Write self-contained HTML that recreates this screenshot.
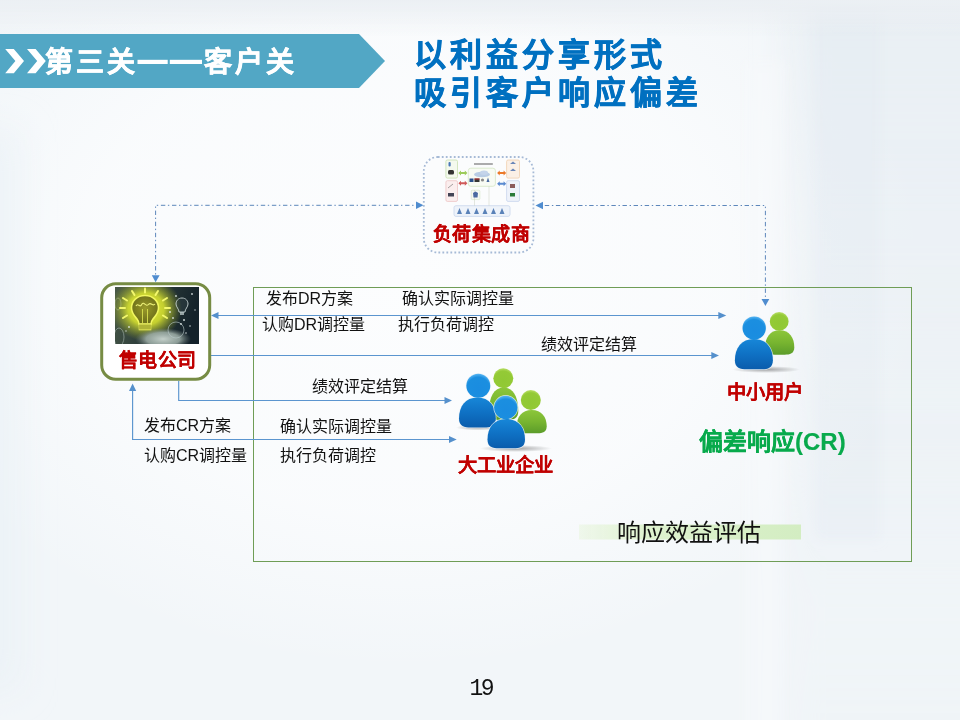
<!DOCTYPE html>
<html lang="zh-CN">
<head>
<meta charset="utf-8">
<style>
html,body{margin:0;padding:0;}
body{width:960px;height:720px;overflow:hidden;position:relative;font-family:"Liberation Sans",sans-serif;
background:#eef3f7;}
#bg{position:absolute;left:0;top:0;width:960px;height:720px;}
.t{position:absolute;white-space:nowrap;line-height:1;margin:0;}
.n{font-size:16px;color:#111;}
.r{font-weight:900;color:#c00000;-webkit-text-stroke:0.12px #c00000;}
svg{position:absolute;left:0;top:0;}
</style>
</head>
<body>
<svg id="bg" width="960" height="720" viewBox="0 0 960 720">
<defs>
<filter id="blur20" x="-20%" y="-20%" width="140%" height="140%"><feGaussianBlur stdDeviation="18"/></filter>
<filter id="blur8" x="-20%" y="-20%" width="140%" height="140%"><feGaussianBlur stdDeviation="6"/></filter>
<linearGradient id="bgTop" x1="0" y1="0" x2="0" y2="1">
<stop offset="0" stop-color="#ebeff3"/>
<stop offset="1" stop-color="#ebeff3" stop-opacity="0"/>
</linearGradient>
<radialGradient id="bgGlow" cx="0.42" cy="0.38" r="0.55">
<stop offset="0" stop-color="#fcfdfe" stop-opacity="1"/>
<stop offset="0.6" stop-color="#fcfdfe" stop-opacity="0.75"/>
<stop offset="1" stop-color="#fcfdfe" stop-opacity="0"/>
</radialGradient>
<linearGradient id="bgRightV" x1="0" y1="0" x2="0" y2="1">
<stop offset="0" stop-color="#e4ebf1" stop-opacity="0.6"/>
<stop offset="0.45" stop-color="#e4ebf1" stop-opacity="0.4"/>
<stop offset="0.8" stop-color="#e4ebf1" stop-opacity="0.1"/>
<stop offset="1" stop-color="#e4ebf1" stop-opacity="0.15"/>
</linearGradient>
</defs>
<rect width="960" height="720" fill="#f2f6f9"/>
<rect width="960" height="720" fill="url(#bgGlow)"/>
<g filter="url(#blur20)">
<rect x="-40" y="130" width="60" height="560" fill="#e8f0f5" opacity="0.6"/>
<rect x="790" y="-40" width="230" height="800" fill="url(#bgRightV)"/>
</g>
<g filter="url(#blur8)">
<rect x="815" y="-20" width="65" height="560" fill="#dde6ee" opacity="0.2"/>
<rect x="745" y="60" width="40" height="680" fill="#f8fafc" opacity="0.5"/>
</g>
<rect x="0" y="0" width="960" height="36" fill="url(#bgTop)"/>
</svg>

<!-- banner -->
<svg width="960" height="720" viewBox="0 0 960 720">
<defs>
<linearGradient id="gBlue" x1="0" y1="0" x2="0" y2="1">
<stop offset="0" stop-color="#1787d8"/>
<stop offset="0.5" stop-color="#0f71c4"/>
<stop offset="1" stop-color="#0a5cac"/>
</linearGradient>
<linearGradient id="gGreen" x1="0" y1="0" x2="0" y2="1">
<stop offset="0" stop-color="#8cc63a"/>
<stop offset="0.5" stop-color="#78b530"/>
<stop offset="1" stop-color="#5b9c2a"/>
</linearGradient>
<radialGradient id="gBlueH" cx="0.5" cy="0.62" r="0.6">
<stop offset="0" stop-color="#1a8ce0"/>
<stop offset="0.8" stop-color="#1b8fe0"/>
<stop offset="1" stop-color="#4fb0f0"/>
</radialGradient>
<radialGradient id="gGreenH" cx="0.5" cy="0.62" r="0.6">
<stop offset="0" stop-color="#90c834"/>
<stop offset="0.8" stop-color="#94ca36"/>
<stop offset="1" stop-color="#b4dc60"/>
</radialGradient>
<radialGradient id="gShadow" cx="0.5" cy="0.5" r="0.5">
<stop offset="0" stop-color="#000" stop-opacity="0.35"/>
<stop offset="1" stop-color="#000" stop-opacity="0"/>
</radialGradient>
<marker id="ah" viewBox="0 0 10 10" refX="9" refY="5" markerWidth="8" markerHeight="8" markerUnits="userSpaceOnUse" orient="auto-start-reverse">
<path d="M0,0 L10,5 L0,10 z" fill="#5590cc"/>
</marker>
</defs>
<polygon points="0,34 359,34 385,61 359,88 0,88" fill="#52a7c5"/>

<!-- green rect -->
<rect x="253.5" y="287.5" width="658" height="274" fill="none" stroke="#6f9d56" stroke-width="1"/>

<!-- dash dot lines -->
<g stroke="#5d87bb" stroke-width="1" fill="none" stroke-dasharray="1.4 2.7 4.4 2.6" stroke-dashoffset="-1.2">
<path d="M155.6,205.3 L155.6,276"/>
<path d="M155.6,205.3 L417,205.3"/>
<path d="M765.4,205.5 L542,205.5"/>
<path d="M765.4,205.5 L765.4,299.5"/>
</g>
<g fill="#4f8ccf">
<path d="M151.8,275.3 L159.6,275.3 L155.6,282.3 z"/>
<path d="M416,201.5 L416,209.1 L423.5,205.3 z"/>
<path d="M543,201.7 L543,209.3 L535.5,205.5 z"/>
<path d="M761.5,298.9 L769.3,298.9 L765.4,306 z"/>
</g>

<!-- solid arrows -->
<g stroke="#5b95cf" stroke-width="1.15" fill="none">
<path d="M216,315.5 L720,315.5"/>
<path d="M211,355.5 L713,355.5"/>
<path d="M178.7,381 L178.7,400.5 L446,400.5"/>
<path d="M132.6,389 L132.6,439.5 L450,439.5"/>
</g>
<g fill="#5590cc">
<path d="M218.5,312 L218.5,319 L211,315.5 z"/>
<path d="M718.3,312 L718.3,319 L726.3,315.5 z"/>
<path d="M711.3,352 L711.3,359 L719,355.5 z"/>
<path d="M444.5,397 L444.5,404 L452,400.5 z"/>
<path d="M449,436 L449,443 L456.7,439.5 z"/>
<path d="M129,391 L136.2,391 L132.6,383.5 z"/>
</g>

<!-- 负荷集成商 box -->
<rect x="423.8" y="157" width="109.6" height="95.5" rx="14" fill="#fbfcfd" stroke="#a6bad6" stroke-width="1.8" stroke-dasharray="1.8 2.2"/>

<!-- diagram image -->
<g>
<rect x="445.9" y="160" width="11.6" height="18.1" rx="1.5" fill="#f4f9ee" stroke="#c8e0b0" stroke-width="0.8"/>
<rect x="445.9" y="180.7" width="11.6" height="20.7" rx="1.5" fill="#fbeeee" stroke="#ecc4c4" stroke-width="0.8"/>
<rect x="506.6" y="160" width="12.9" height="18.1" rx="1.5" fill="#fbf0e6" stroke="#f0cfae" stroke-width="0.8"/>
<rect x="506.6" y="180.7" width="12.9" height="20.7" rx="1.5" fill="#eef2fa" stroke="#c8d4ec" stroke-width="0.8"/>
<rect x="468.3" y="168.2" width="27.1" height="18.1" rx="2.5" fill="#f8fbf4" stroke="#d4e6c4" stroke-width="0.8"/>
<rect x="471.3" y="190.2" width="8.6" height="9.4" rx="1" fill="#f6faf2" stroke="#d4e6c4" stroke-width="0.6"/>
<rect x="454" y="205.7" width="56" height="10.7" rx="2" fill="#eef3fa" stroke="#c8d6ec" stroke-width="0.8"/>
<path d="M474.5,190 L474.5,205.7 M489,186.3 L489,205.7" stroke="#c8d0c0" stroke-width="0.5"/>
<ellipse cx="482" cy="174.5" rx="8" ry="2.8" fill="#b8cce4"/>
<ellipse cx="484" cy="172.8" rx="4" ry="2.2" fill="#c4d4ea"/>
<rect x="474" y="163.2" width="18.8" height="1.6" fill="#555" opacity="0.6"/>
<g>
<rect x="469.5" y="178.5" width="4" height="3.5" fill="#2a4f8a"/>
<rect x="474.5" y="178.5" width="5" height="3.5" fill="#333"/>
<rect x="474.5" y="178.5" width="5" height="1" fill="#c33"/>
<circle cx="482.5" cy="180" r="1.6" fill="#888"/>
<path d="M486.5,182 L488,177.5 L489.5,182 z" fill="#4a6aa0"/>
</g>
<g fill="#4a78b8">
<rect x="448.5" y="162" width="2.2" height="4.5" rx="1"/>
</g>
<rect x="448" y="170" width="6" height="4.5" rx="1.5" fill="#333"/>
<rect x="448" y="193" width="6" height="3.5" fill="#445"/>
<path d="M448,188 L453,184" stroke="#666" stroke-width="0.6"/>
<path d="M510,164 L513,161.5 L516,164 z" fill="#6a86b8"/>
<path d="M510,171 L513,168.5 L516,171 z" fill="#6a86b8"/>
<rect x="510" y="184" width="5" height="4" fill="#8a5a5a"/>
<rect x="510" y="193" width="5" height="3.5" fill="#2a7a3a"/>
<g fill="#5a82b8">
<path d="M457,214 L459.5,208 L462,214 z"/><path d="M465.5,214 L468,208 L470.5,214 z"/>
<path d="M474,214 L476.5,208 L479,214 z"/><path d="M482.5,214 L485,208 L487.5,214 z"/>
<path d="M491,214 L493.5,208 L496,214 z"/><path d="M499.5,214 L502,208 L504.5,214 z"/>
</g>
<path d="M473,193 L475.5,191.5 L478,193 L477.5,197.5 L473.5,197.5 z" fill="#4a6aa0"/>
<!-- double arrows -->
<path d="M458.4,173 L461,170.5 L461,172 L464.8,172 L464.8,170.5 L467.4,173 L464.8,175.5 L464.8,174 L461,174 L461,175.5 z" fill="#9ccb5a"/>
<path d="M458.4,183.3 L461,180.8 L461,182.3 L464.8,182.3 L464.8,180.8 L467.4,183.3 L464.8,185.8 L464.8,184.3 L461,184.3 L461,185.8 z" fill="#d05a5a"/>
<path d="M497.1,173 L499.7,170.5 L499.7,172 L503.6,172 L503.6,170.5 L506.2,173 L503.6,175.5 L503.6,174 L499.7,174 L499.7,175.5 z" fill="#ec7a2a"/>
<path d="M497.1,183.7 L499.7,181.2 L499.7,182.7 L503.6,182.7 L503.6,181.2 L506.2,183.7 L503.6,186.2 L503.6,184.7 L499.7,184.7 L499.7,186.2 z" fill="#5a8ad0"/>
</g>

<!-- 售电公司 box -->
<rect x="101.7" y="283.8" width="108" height="95.4" rx="14" fill="#ffffff" stroke="#778c44" stroke-width="3"/>
<!-- lightbulb image -->
<defs>
<linearGradient id="gBulbBg" x1="0" y1="0" x2="1" y2="0.2">
<stop offset="0" stop-color="#4a5a48"/>
<stop offset="0.5" stop-color="#2c3c3a"/>
<stop offset="1" stop-color="#14222a"/>
</linearGradient>
<radialGradient id="gGlow" cx="0.5" cy="0.5" r="0.5">
<stop offset="0" stop-color="#f4f840" stop-opacity="1"/>
<stop offset="0.5" stop-color="#dfe92e" stop-opacity="0.85"/>
<stop offset="0.8" stop-color="#b8c628" stop-opacity="0.35"/>
<stop offset="1" stop-color="#a0b020" stop-opacity="0"/>
</radialGradient>
<radialGradient id="gHand" cx="0.5" cy="0.5" r="0.5">
<stop offset="0" stop-color="#c4d0ca"/>
<stop offset="0.6" stop-color="#98a8a2" stop-opacity="0.9"/>
<stop offset="1" stop-color="#6b7a76" stop-opacity="0"/>
</radialGradient>
<radialGradient id="gBulbIn" cx="0.5" cy="0.45" r="0.55">
<stop offset="0" stop-color="#9a9a2a"/>
<stop offset="1" stop-color="#6a6c18"/>
</radialGradient>
<clipPath id="cBulb"><rect x="115" y="287" width="84" height="57"/></clipPath>
</defs>
<g clip-path="url(#cBulb)">
<rect x="115" y="287" width="84" height="57" fill="url(#gBulbBg)"/>
<ellipse cx="146" cy="309" rx="36" ry="32" fill="url(#gGlow)"/>
<ellipse cx="163" cy="339" rx="28" ry="11" fill="url(#gHand)"/>
<ellipse cx="176" cy="330" rx="8" ry="8" fill="none" stroke="#b8c8c8" stroke-width="1" opacity="0.6"/>
<ellipse cx="119" cy="337" rx="5" ry="9" fill="none" stroke="#a8b8b0" stroke-width="1" opacity="0.6"/>
<ellipse cx="118" cy="304" rx="3" ry="6" fill="none" stroke="#c8d8a0" stroke-width="0.8" opacity="0.5"/>
<g stroke="#f8fc70" stroke-width="2" stroke-linecap="round" opacity="0.95">
<path d="M145,288.5 L145,292.5"/><path d="M132,291 L134.5,295"/><path d="M158,291 L155.5,295"/>
<path d="M123,298 L127,300.5"/><path d="M167,298 L163,300.5"/><path d="M120,308 L125,308"/>
<path d="M170,308 L165,308"/><path d="M123,318 L127,315.5"/><path d="M167,318 L163,315.5"/>
</g>
<path d="M145,295.5 C137,295.5 131.5,301 131.5,308 C131.5,313 134.5,316 137,319 C138.5,321 139,322 139,324 L151,324 C151,322 151.5,321 153,319 C155.5,316 158.5,313 158.5,308 C158.5,301 153,295.5 145,295.5 Z" fill="url(#gBulbIn)" stroke="#f2f760" stroke-width="1.6"/>
<path d="M136,306 C138,302 140,309 142,304 C144,301 146,308 149,304 C151,302 153,307 155,304" fill="none" stroke="#eef27a" stroke-width="1.1"/>
<path d="M142.5,309 L142.5,323 M147.5,309 L147.5,323" stroke="#d8e050" stroke-width="0.9"/>
<rect x="139" y="324" width="12" height="6" fill="#c4c840" stroke="#e6ea66" stroke-width="0.6"/>
<path d="M139,326 L151,326 M139,328 L151,328" stroke="#80841e" stroke-width="0.6"/>
<path d="M182,298 C178,298 176,301 176,304 C176,307 179,309 179,312 L185,312 C185,309 188,307 188,304 C188,301 186,298 182,298 Z" fill="#3a4a50" fill-opacity="0.4" stroke="#d0dcdc" stroke-width="1" opacity="0.85"/>
<rect x="180" y="312" width="4" height="3" fill="#c8d4d4" opacity="0.7"/>
<g fill="#e8f0f0" opacity="0.85">
<circle cx="176" cy="296" r="0.9"/><circle cx="192" cy="294" r="0.9"/><circle cx="184" cy="320" r="1"/>
<circle cx="190" cy="326" r="0.8"/><circle cx="173" cy="318" r="0.9"/><circle cx="129" cy="327" r="0.9"/>
<circle cx="126" cy="331" r="0.7"/><circle cx="186" cy="333" r="0.8"/><circle cx="195" cy="310" r="0.7"/>
<circle cx="170" cy="312" r="1"/><circle cx="181" cy="324" r="0.9"/>
</g>
</g>


<!-- people 中小用户 -->
<g>
<ellipse cx="766" cy="369.5" rx="34" ry="3.5" fill="url(#gShadow)"/>
<path d="M765.1,347.3 C765.1,337.6 770.1,330.2 779.7,330.2 C789.3,330.2 794.3,337.6 794.3,347.3 C794.3,353.7 789.9,354.7 784.7,354.7 L774.7,354.7 C769.5,354.7 765.1,353.7 765.1,347.3 Z" fill="url(#gGreen)"/>
<circle cx="779.2" cy="321.4" r="9.4" fill="url(#gGreenH)"/>
<path d="M734.9,360.3 C734.9,348.1 741.4,339.0 753.9,339.0 C766.4,339.0 772.9,348.1 772.9,360.3 C772.9,368.3 767.5,369.3 761.2,369.3 L746.6,369.3 C740.3,369.3 734.9,368.3 734.9,360.3 Z" fill="#eef4f8" stroke="#eef4f8" stroke-width="1.4" opacity="0.8"/>
<circle cx="754.2" cy="328.1" r="11.7" fill="#eef4f8" stroke="#eef4f8" stroke-width="1.4" opacity="0.8"/>
<path d="M734.9,360.3 C734.9,348.1 741.4,339.0 753.9,339.0 C766.4,339.0 772.9,348.1 772.9,360.3 C772.9,368.3 767.5,369.3 761.2,369.3 L746.6,369.3 C740.3,369.3 734.9,368.3 734.9,360.3 Z" fill="url(#gBlue)"/>
<circle cx="754.2" cy="328.1" r="11.7" fill="url(#gBlueH)"/>
</g>
<!-- people 大工业企业 -->
<g>
<ellipse cx="478" cy="427.5" rx="22" ry="3" fill="url(#gShadow)"/>
<ellipse cx="516" cy="448.5" rx="36" ry="3.5" fill="url(#gShadow)"/>
<path d="M489.0,411.0 C489.0,397.2 494.0,387.5 503.6,387.5 C513.3,387.5 518.3,397.2 518.3,411.0 C518.3,419.0 512.9,420.0 506.6,420.0 L500.7,420.0 C494.4,420.0 489.0,419.0 489.0,411.0 Z" fill="url(#gGreen)"/>
<circle cx="503.3" cy="378.3" r="10" fill="url(#gGreenH)"/>
<path d="M516.7,426.3 C516.7,417.0 521.8,410.0 531.7,410.0 C541.6,410.0 546.7,417.0 546.7,426.3 C546.7,432.3 542.5,433.3 537.6,433.3 L525.8,433.3 C520.9,433.3 516.7,432.3 516.7,426.3 Z" fill="url(#gGreen)"/>
<circle cx="530.8" cy="400" r="10" fill="url(#gGreenH)"/>
<path d="M459.0,418.5 C459.0,406.5 465.3,397.5 477.4,397.5 C489.5,397.5 495.8,406.5 495.8,418.5 C495.8,426.5 490.4,427.5 484.1,427.5 L470.7,427.5 C464.4,427.5 459.0,426.5 459.0,418.5 Z" fill="#eef4f8" stroke="#eef4f8" stroke-width="1.4" opacity="0.8"/>
<circle cx="478.3" cy="385.8" r="12" fill="#eef4f8" stroke="#eef4f8" stroke-width="1.4" opacity="0.8"/>
<path d="M459.0,418.5 C459.0,406.5 465.3,397.5 477.4,397.5 C489.5,397.5 495.8,406.5 495.8,418.5 C495.8,426.5 490.4,427.5 484.1,427.5 L470.7,427.5 C464.4,427.5 459.0,426.5 459.0,418.5 Z" fill="url(#gBlue)"/>
<circle cx="478.3" cy="385.8" r="12" fill="url(#gBlueH)"/>
<path d="M487.5,439.5 C487.5,427.8 493.9,419.0 506.2,419.0 C518.6,419.0 525.0,427.8 525.0,439.5 C525.0,447.3 519.7,448.3 513.6,448.3 L498.9,448.3 C492.8,448.3 487.5,447.3 487.5,439.5 Z" fill="#eef4f8" stroke="#eef4f8" stroke-width="1.4" opacity="0.8"/>
<circle cx="505.8" cy="407.5" r="11.7" fill="#eef4f8" stroke="#eef4f8" stroke-width="1.4" opacity="0.8"/>
<path d="M487.5,439.5 C487.5,427.8 493.9,419.0 506.2,419.0 C518.6,419.0 525.0,427.8 525.0,439.5 C525.0,447.3 519.7,448.3 513.6,448.3 L498.9,448.3 C492.8,448.3 487.5,447.3 487.5,439.5 Z" fill="url(#gBlue)"/>
<circle cx="505.8" cy="407.5" r="11.7" fill="url(#gBlueH)"/>
</g>

<!-- response bar -->
<defs>
<linearGradient id="gBar" x1="0" y1="0" x2="1" y2="0">
<stop offset="0" stop-color="#e6f4da" stop-opacity="0.5"/>
<stop offset="0.3" stop-color="#def2cf"/>
<stop offset="1" stop-color="#d3edc2"/>
</linearGradient>
</defs>
<rect x="579" y="524.5" width="222" height="15" fill="url(#gBar)"/>
</svg>

<!-- texts -->
<svg width="960" height="100" viewBox="0 0 960 100">
<g fill="#fff">
<path d="M5.2,48.9 L13.8,48.9 L24,61 L13.8,73.3 L5.2,73.3 L15.4,61 z"/>
<path d="M27,48.9 L35.6,48.9 L45.8,61 L35.6,73.3 L27,73.3 L37.2,61 z"/>
<rect x="137.5" y="59.8" width="30.2" height="4.2"/>
<rect x="169.8" y="59.8" width="32.2" height="4.2"/>
</g>
</svg>
<div class="t" style="left:44.5px;top:49px;font-size:28px;color:#fff;font-weight:900;-webkit-text-stroke:0.5px #fff;letter-spacing:3.3px;">第三关</div>
<div class="t" style="left:203.5px;top:49px;font-size:28px;color:#fff;font-weight:900;-webkit-text-stroke:0.5px #fff;letter-spacing:3.3px;">客户关</div>
<div class="t" style="left:413.5px;top:36px;font-size:32px;color:#0070c0;font-weight:900;-webkit-text-stroke:0.7px #0070c0;letter-spacing:4px;line-height:38px;">以利益分享形式<br>吸引客户响应偏差</div>

<div class="t r" style="left:432.5px;top:225px;font-size:19px;letter-spacing:0.5px;">负荷集成商</div>
<div class="t r" style="left:119px;top:351px;font-size:19px;letter-spacing:0.3px;">售电公司</div>
<div class="t r" style="left:726.5px;top:383px;font-size:19.3px;">中小用户</div>
<div class="t r" style="left:458px;top:456px;font-size:19.3px;">大工业企业</div>
<div class="t" style="left:699px;top:430px;font-size:24px;font-weight:900;color:#08aa4c;-webkit-text-stroke:0.15px #08aa4c;">偏差响应(CR)</div>

<div class="t n" style="left:266px;top:291px;">发布DR方案</div>
<div class="t n" style="left:402px;top:291px;">确认实际调控量</div>
<div class="t n" style="left:262px;top:317px;">认购DR调控量</div>
<div class="t n" style="left:398px;top:317px;">执行负荷调控</div>
<div class="t n" style="left:541px;top:337px;">绩效评定结算</div>
<div class="t n" style="left:312px;top:379px;">绩效评定结算</div>
<div class="t n" style="left:144px;top:418px;">发布CR方案</div>
<div class="t n" style="left:280px;top:419px;">确认实际调控量</div>
<div class="t n" style="left:144px;top:448px;">认购CR调控量</div>
<div class="t n" style="left:280px;top:448px;">执行负荷调控</div>
<div class="t" style="left:616.5px;top:521px;font-size:24px;color:#111;">响应效益评估</div>
<div class="t" style="left:469.5px;top:678px;font-size:23px;color:#111;font-family:'Liberation Mono',monospace;letter-spacing:-2.6px;">19</div>
</body>
</html>
